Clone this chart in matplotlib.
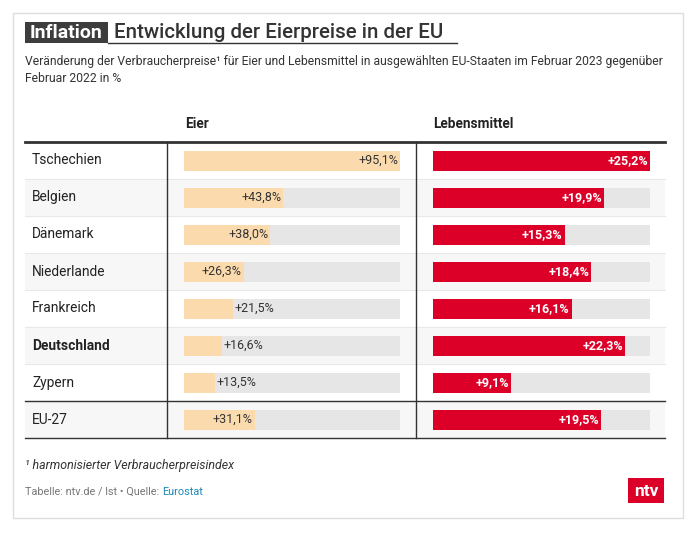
import matplotlib.pyplot as plt
from matplotlib.patches import Rectangle

countries = ['Tschechien', 'Belgien', 'Dänemark', 'Niederlande', 'Frankreich',
             'Deutschland', 'Zypern', 'EU-27']
eier = [95.1, 43.8, 38.0, 26.3, 21.5, 16.6, 13.5, 31.1]
lebensmittel = [25.2, 19.9, 15.3, 18.4, 16.1, 22.3, 9.1, 19.5]
columns = ['Eier', 'Lebensmittel']

W, H = 691, 537
plt.rcParams['font.family'] = ['Roboto', 'DejaVu Sans']

fig = plt.figure(figsize=(W / 100, H / 100), dpi=100)
bg = fig.add_axes([0, 0, 1, 1])
bg.set_xlim(0, W)
bg.set_ylim(H, 0)
bg.axis('off')

# card
bg.add_patch(Rectangle((13, 13), 670, 505, facecolor='white', edgecolor='#dddddd', lw=1))

# title
bg.add_patch(Rectangle((25, 22), 83, 21, facecolor='#3d3d3d', edgecolor='none'))
bg.text(66.5, 33, 'Inflation', color='white', fontsize=14, fontweight='bold',
        ha='center', va='center')
bg.text(114, 33, 'Entwicklung der Eierpreise in der EU', color='#333333', fontsize=14.8,
        fontweight='medium', ha='left', va='center')
bg.plot([108, 457], [42.5, 42.5], color='#333333', lw=1)

bg.text(25, 61, 'Veränderung der Verbraucherpreise¹ für Eier und Lebensmittel in ausgewählten '
        'EU-Staaten im Februar 2023 gegenüber', color='#333333', fontsize=8.75, va='center')
bg.text(25, 78, 'Februar 2022 in %', color='#333333', fontsize=8.75, va='center')

# table
top, row_h = 142, 37
n = len(countries)
bottom = top + n * row_h
bg.text(185, 124, columns[0], fontsize=9.8, fontweight='bold', color='#222222', va='center')
bg.text(433, 124, columns[1], fontsize=9.8, fontweight='bold', color='#222222', va='center')

for i, c in enumerate(countries):
    y0 = top + i * row_h
    if i % 2 == 1:
        bg.add_patch(Rectangle((25, y0), 640, row_h, facecolor='#f7f7f7', edgecolor='none'))
    if i > 0:
        bg.plot([25, 665], [y0, y0], color='#e8e8e8', lw=0.8)
    bg.text(32, y0 + row_h / 2, c, fontsize=9.9, color='#222222', va='center',
            fontweight='bold' if c == 'Deutschland' else 'normal')

bg.plot([25, 665], [top, top], color='#333333', lw=2)
bg.plot([25, 665], [top + 7 * row_h, top + 7 * row_h], color='#333333', lw=1)
bg.plot([25, 665], [bottom, bottom], color='#333333', lw=1)
bg.plot([167, 167], [top, bottom], color='#333333', lw=1)
bg.plot([416, 416], [top, bottom], color='#333333', lw=1)


def bar_axes(x0, x1, values, color, label_color, bold):
    ax = fig.add_axes([x0 / W, 1 - bottom / H, (x1 - x0) / W, (bottom - top) / H])
    ax.set_xlim(0, max(values))
    ax.set_ylim(n, 0)
    ax.axis('off')
    ax.patch.set_alpha(0)
    ys = [i + 0.5 for i in range(n)]
    ax.barh(ys, [max(values)] * n, height=20 / row_h, color='#e6e6e6')
    ax.barh(ys, values, height=20 / row_h, color=color)
    px = max(values) / (x1 - x0)
    weight = 'bold' if bold else 'normal'
    for y, v in zip(ys, values):
        s = '+' + f'{v:.1f}'.replace('.', ',') + '%'
        w = ax.text(0, 0, s, fontsize=9, fontweight=weight)
        fig.canvas.draw()
        tw = w.get_window_extent().width * px
        w.remove()
        if tw + 10 * px < v:
            ax.text(v - 2 * px, y, s, ha='right', va='center', fontsize=9,
                    color=label_color, fontweight=weight)
        else:
            ax.text(v + 2 * px, y, s, ha='left', va='center', fontsize=9,
                    color='#333333', fontweight=weight)
    return ax


bar_axes(184, 400, eier, '#fbdbad', '#333333', False)
bar_axes(433, 650, lebensmittel, '#dc0028', 'white', True)

# footer
bg.text(25, 465, '¹ harmonisierter Verbraucherpreisindex', fontsize=8.9, style='italic',
        color='#333333', va='center')
t = bg.text(25, 492, 'Tabelle: ntv.de / lst • Quelle: ', fontsize=7.8, color='#777777',
            va='center')
fig.canvas.draw()
ext = t.get_window_extent()
bg.text(25 + ext.width, 492, 'Eurostat', fontsize=7.8, color='#1b87b3', va='center')

bg.add_patch(Rectangle((628, 478), 36, 25, facecolor='#dc0028', edgecolor='none'))
bg.text(646, 491, 'ntv', color='white', fontsize=12.5, fontweight='bold', ha='center',
        va='center')

fig.savefig('out.png', dpi=100, facecolor='white')
